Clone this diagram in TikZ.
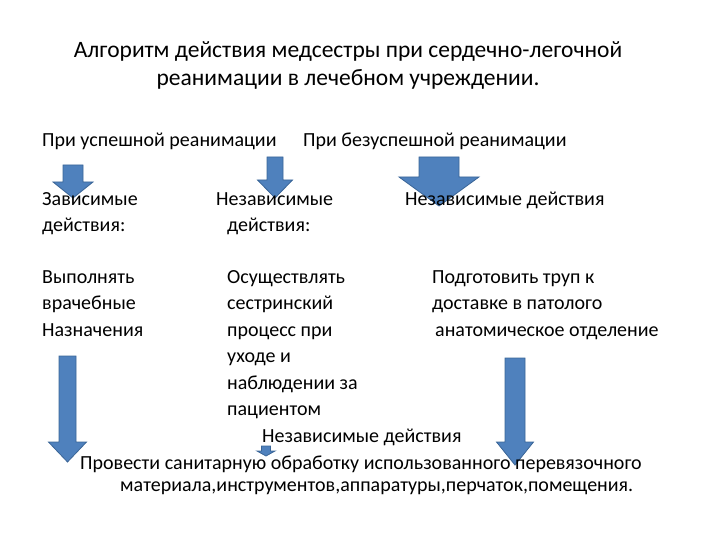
\documentclass[tikz,border=0pt]{standalone}
\usepackage{fontspec}
\setmainfont{Carlito}
\usetikzlibrary{positioning}
\definecolor{slideblue}{HTML}{4F81BD}
\definecolor{slideedge}{HTML}{3A6597}

\begin{document}
\begin{tikzpicture}[
    x=1pt,
    y=-1pt,
    font=\fontsize{20}{26.5}\selectfont,
    txt/.style={anchor=north west, inner sep=0pt, align=left},
    heading/.style={anchor=north, inner sep=0pt, align=center, font=\fontsize{23.5}{28}\selectfont},
    blockarrow/.style={fill=slideblue, draw=slideedge, line width=0.8pt, line join=miter}
  ]
    \useasboundingbox (0,0) rectangle (720,540);

    % block arrows: centre x / shaft half / head half / top / head start / tip
    \foreach \cx/\sw/\hw/\ytop/\yhead/\ytip in {73/10/20/165/182/198, 275/8/17.5/157/180/198, 439/20/40/157/177/206,
                                          67.5/8.5/19/356/442/462, 266/4.5/9/446/451/456, 515/10/18.5/358/442/465}
      \draw[blockarrow] (\cx-\sw,\ytop) -- (\cx+\sw,\ytop) -- (\cx+\sw,\yhead) -- (\cx+\hw,\yhead)
                        -- (\cx,\ytip) -- (\cx-\hw,\yhead) -- (\cx-\sw,\yhead) -- cycle;

    \node[heading] (title) at (348,37.4) {\strut Алгоритм действия медсестры при сердечно-легочной\\реанимации в лечебном учреждении.};

    \node[txt] (success) at (42,127.5) {\strut При успешной реанимации};
    \node[txt] (failure) at (303,127.5) {\strut При безуспешной реанимации};

    \node[txt] (dependent) at (42,186.5) {\strut Зависимые\\действия:};
    \node[txt] (independent) at (216,186.5) {\strut Независимые\\\hspace*{11pt}действия:};
    \node[txt] (indepfail) at (405,186.5) {\strut Независимые действия};

    \node[txt] (orders) at (42,264.5) {\strut Выполнять\\врачебные\\Назначения};
    \node[txt] (process) at (227,264.5) {\strut Осуществлять\\сестринский\\процесс при\\уходе и\\наблюдении за\\пациентом};
    \node[txt] (body) at (432,264.5) {\strut Подготовить труп к\\доставке в патолого\\\hspace*{3pt}анатомическое отделение};

    \node[txt] (indepbottom) at (262,423.5) {\strut Независимые действия};
    \node[txt, font=\fontsize{20}{22}\selectfont] (sanitize) at (80,453.6)
      {\strut Провести санитарную обработку использованного перевязочного\\
       \hspace*{40pt}материала,инструментов,аппаратуры,перчаток,помещения.};
  \end{tikzpicture}
\end{document}
